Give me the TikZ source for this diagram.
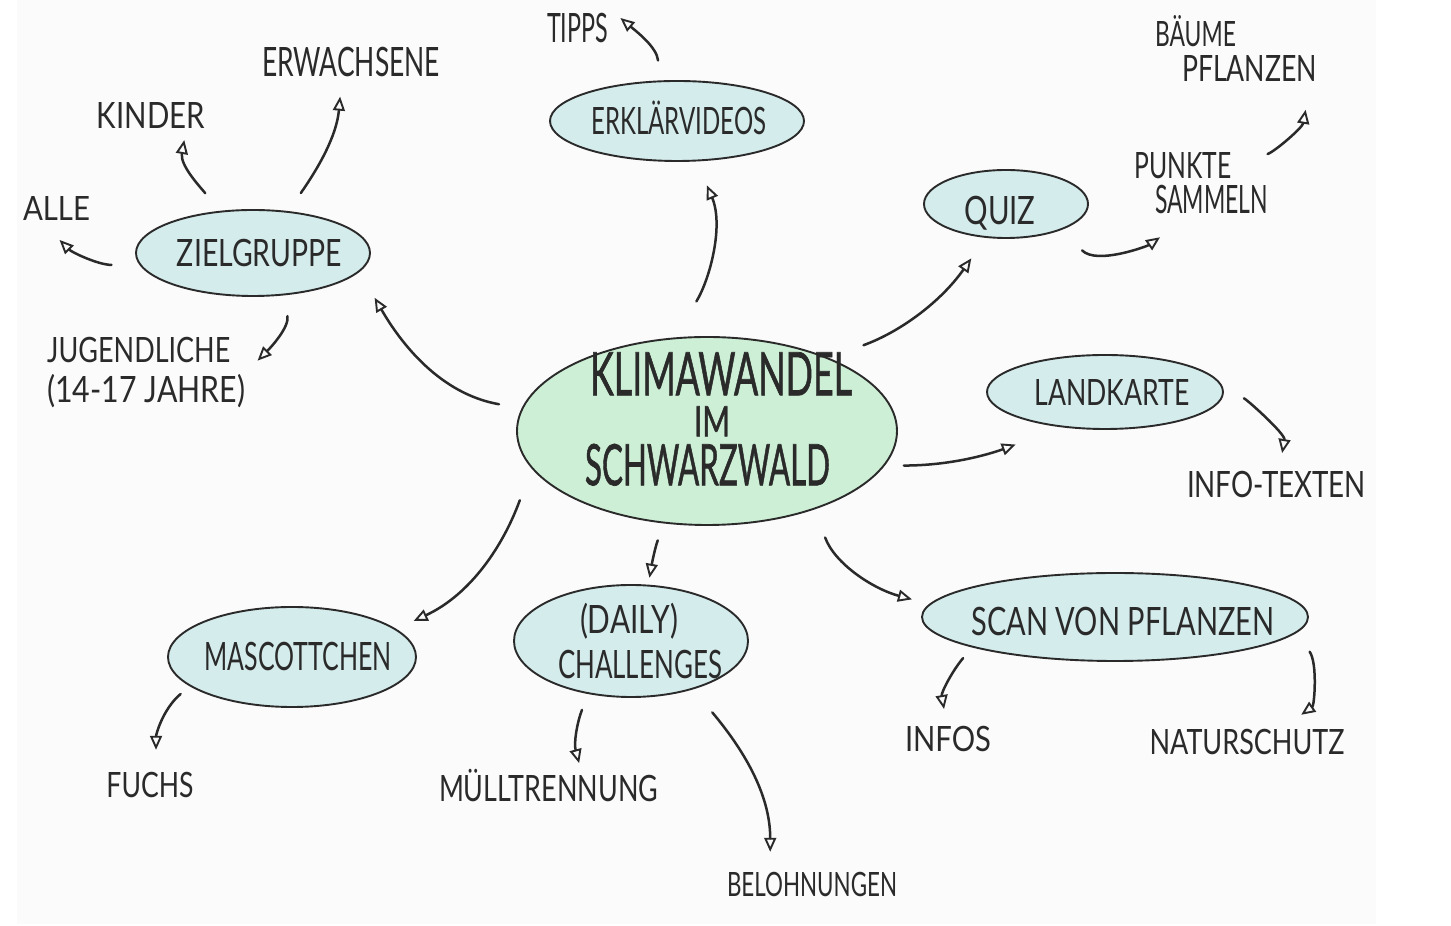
\documentclass[tikz,border=0pt]{standalone}
\usepackage{fontspec}
\usepackage{graphicx}
\setmainfont{Lato}
\newfontfamily\titlefont[FakeBold=1.3]{Lato}
\usetikzlibrary{arrows.meta,shapes.geometric}
\definecolor{ink}{HTML}{2A2A2A}
\definecolor{bubfill}{HTML}{D5ECEC}
\definecolor{greenfill}{HTML}{CDEFD5}
\definecolor{paper}{HTML}{FBFBFB}
\newcommand\fitt[3]{{\fontsize{\fpeval{round(#2/0.7165,2)}pt}{\fpeval{round(#2/0.7165*1.2,2)}pt}\selectfont\resizebox{#1pt}{\height}{#3}}}
\tikzset{
  bubble/.style={ellipse, draw=ink, line width=1.9pt, fill=bubfill, inner sep=0pt},
  lbl/.style={inner sep=3pt, text=ink, text depth=0pt},
  arr/.style={draw=ink, line width=2.5pt, line cap=round,
    -{Triangle[open, length=14pt, width=12pt, line width=1.9pt]}},
}
\begin{document}
\begin{tikzpicture}[x=1pt,y=1pt]
\useasboundingbox (0,0) rectangle (1451,926);
\fill[white] (0,0) rectangle (1451,926);
\fill[paper] (17,2) rectangle (1376,926);

% bubbles
\node[bubble, fill=greenfill, minimum width=380pt, minimum height=188pt] (main) at (707,495) {};
\node[bubble, minimum width=234pt, minimum height=86pt] (ziel) at (253,673) {};
\node[bubble, minimum width=254pt, minimum height=80pt] (erk) at (677,805) {};
\node[bubble, minimum width=164pt, minimum height=68pt] (quiz) at (1006,722) {};
\node[bubble, minimum width=236pt, minimum height=74pt] (land) at (1105,534) {};
\node[bubble, minimum width=386pt, minimum height=88pt] (scan) at (1115,309) {};
\node[bubble, minimum width=248pt, minimum height=100pt] (masc) at (292,269) {};
\node[bubble, minimum width=234pt, minimum height=112pt] (daily) at (631,285) {};

% bubble texts
\node[inner sep=3pt, text=ink, align=center, font=\titlefont\fontsize{30pt}{45pt}\selectfont] (main-t) at (712,507)
  {\hspace*{18pt}\fitt{262}{43}{KLIMAWANDEL}\\[-4pt]\fitt{36}{30}{IM}\hspace*{6pt}\\[4pt]\fitt{245}{41}{SCHWARZWALD}\hspace*{9pt}};
\node[lbl, text height=27pt] (ziel-t) at (259.5,672.5) {\fitt{165}{27}{ZIELGRUPPE}};
\node[lbl, text height=27pt] (erk-t) at (679,804.5) {\fitt{175}{27}{ERKLÄRVIDEOS}};
\node[lbl, text height=28pt] (quiz-t) at (1000,715) {\fitt{71}{28}{QUIZ}};
\node[lbl, text height=26pt] (land-t) at (1112,533) {\fitt{155}{26}{LANDKARTE}};
\node[lbl, text height=28pt] (scan-t) at (1123,304) {\fitt{303}{28}{SCAN VON PFLANZEN}};
\node[lbl, text height=28pt] (masc-t) at (298,269) {\fitt{187}{28}{MASCOTTCHEN}};
\node[lbl, text height=28pt] (daily-t1) at (629,306) {\fitt{98}{28}{(DAILY)}};
\node[lbl, text height=28pt] (daily-t2) at (640,261) {\fitt{164}{28}{CHALLENGES}};

% free labels
\node[lbl, text height=29pt] (erw) at (351,864) {\fitt{178}{29}{ERWACHSENE}};
\node[lbl, text height=26pt] (kinder) at (151,810.5) {\fitt{108}{26}{KINDER}};
\node[lbl, text height=24pt] (alle) at (56.5,717.5) {\fitt{67}{24}{ALLE}};
\node[lbl, align=left, anchor=north west, font=\fontsize{30pt}{40pt}\selectfont] (jugend) at (44,592)
  {\fitt{183}{25}{JUGENDLICHE}\\\fitt{198}{26}{(14-17 JAHRE)}};
\node[lbl, text height=29pt] (tipps) at (577.5,898) {\fitt{61}{29}{TIPPS}};
\node[lbl, text height=25pt] (baeume) at (1195.5,892) {\fitt{81}{25}{BÄUME}};
\node[lbl, text height=26pt] (pflanzen) at (1249.5,857) {\fitt{135}{26}{PFLANZEN}};
\node[lbl, text height=26pt] (punkte) at (1183,760) {\fitt{97}{26}{PUNKTE}};
\node[lbl, text height=28pt] (sammeln) at (1211.5,726) {\fitt{113}{28}{SAMMELN}};
\node[lbl, text height=26pt] (info) at (1276.5,441) {\fitt{179}{26}{INFO-TEXTEN}};
\node[lbl, text height=25pt] (fuchs) at (150,140.5) {\fitt{87}{25}{FUCHS}};
\node[lbl, text height=26pt] (muell) at (548.5,137) {\fitt{219}{26}{MÜLLTRENNUNG}};
\node[lbl, text height=24pt] (beloh) at (812,41) {\fitt{170}{24}{BELOHNUNGEN}};
\node[lbl, text height=25pt] (infos) at (948,186.5) {\fitt{86}{25}{INFOS}};
\node[lbl, text height=25pt] (natur) at (1247,183.5) {\fitt{195}{25}{NATURSCHUTZ}};

% connectors from the centre
\draw[arr, shorten <=23pt, shorten >=30pt] (main.173) to[out=170, in=-60] (ziel.-10);
\draw[arr, shorten <=42pt, shorten >=26pt] (main.109) to[out=59, in=-67] (erk.-64);
\draw[arr, shorten <=37pt, shorten >=25pt] (main.31) to[out=20, in=-125] (quiz.-121);
\draw[arr, shorten <=19pt, shorten >=50pt] (main.-11) to[out=0, in=-160] (land.-140);
\draw[arr, shorten <=30pt, shorten >=18pt] (main.-36) to[out=-70, in=165] (scan.176);
\draw[arr, shorten <=18pt, shorten >=7pt] (main.-115) to[out=-110, in=80] (daily.73);
\draw[arr, shorten <=34pt, shorten >=19pt] (main.-168) to[out=-110, in=25] (masc.15);

% Zielgruppe
\draw[arr, shorten <=28pt, shorten >=23pt] (ziel.-174) to[out=180, in=-45] (alle.-131);
\draw[arr, shorten <=23pt, shorten >=8.5pt] (ziel.128) to[out=130, in=-100] (kinder.-25);
\draw[arr, shorten <=22pt, shorten >=17pt] (ziel.50) to[out=55, in=-95] (erw.-118);
\draw[arr, shorten <=21pt, shorten >=13pt] (ziel.-54) to[out=-80, in=45] (jugend.east);

% Erklaervideos
\draw[arr, shorten <=20pt, shorten >=12pt] (erk.113) to[out=95, in=-40] (tipps.north east);

% Quiz
\draw[arr, shorten <=29pt, shorten >=35pt] (quiz.-25) to[out=-45, in=-145] (sammeln.-143);
\draw[arr, shorten <=35pt, shorten >=25pt] (punkte.east) to[out=20, in=-100] (pflanzen.-15);

% Landkarte
\draw[arr, shorten <=34pt, shorten >=16pt] (land.-9) to[out=18, in=80] (info.80);

% Scan
\draw[arr, shorten <=14pt, shorten >=15pt] (scan.-168) to[out=-130, in=100] (infos.95);
\draw[arr, shorten <=23pt, shorten >=21pt] (scan.-5) to[out=-55, in=35] (natur.23);

% Mascottchen
\draw[arr, shorten <=12pt, shorten >=20pt] (masc.-164) to[out=-140, in=90] (fuchs.69);

% Daily challenges
\draw[arr, shorten <=17pt, shorten >=10pt] (daily.-129) to[out=-111, in=105] (muell.26);
\draw[arr, shorten <=30pt, shorten >=18pt] (daily.-38) to[out=-50, in=90] (beloh.160);
\end{tikzpicture}
\end{document}
